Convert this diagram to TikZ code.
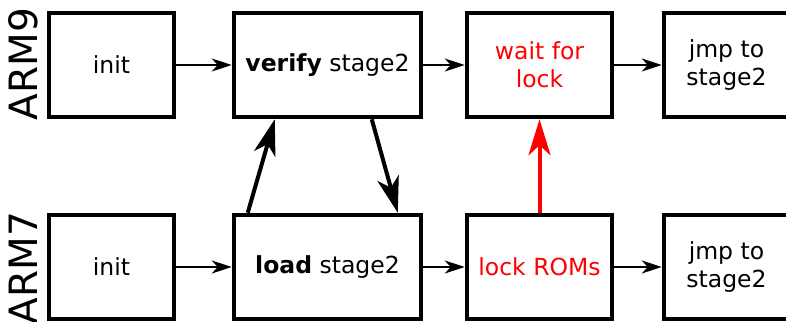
\documentclass[tikz,border=0pt]{standalone}
\usepackage{fontspec}
\setmainfont{DejaVu Sans}
\usetikzlibrary{arrows.meta}
\begin{document}
\begin{tikzpicture}[x=1pt,y=-1pt,
  box/.style={draw,line width=4.5pt,minimum height=104pt,inner sep=0pt,align=center,
    font=\fontsize{23.5}{28}\selectfont},
  lbl/.style={rotate=90,font=\fontsize{39}{40}\selectfont},
  thinarrow/.style={line width=2pt,-{Stealth[length=20pt,width=13pt,inset=6pt]}},
  thickarrow/.style={line width=4pt,-{Stealth[length=36pt,width=22pt,inset=10pt]}},
  redtxt/.style={text=red}]
\useasboundingbox (0,0) rectangle (786,321);
\clip (0,0) rectangle (786,321);
\node[lbl] (arm9) at (23,64) {ARM9};
\node[lbl] (arm7) at (23,268) {ARM7};
% top row
\node[box,minimum width=125pt] (i9) at (111.5,65) {init};
\node[box,minimum width=187pt] (v9) at (327.5,65) {\textbf{verify} stage2};
\node[box,minimum width=145pt,redtxt] (w9) at (539.5,65) {wait for\\lock};
\node[box,minimum width=125pt] (j9) at (726.5,65) {jmp to\\stage2};
% bottom row
\node[box,minimum width=125pt] (i7) at (111.5,267) {init};
\node[box,minimum width=187pt] (l7) at (327.5,267) {\textbf{load} stage2};
\node[box,minimum width=145pt,redtxt] (r7) at (539.5,267) {lock ROMs};
\node[box,minimum width=125pt] (j7) at (726.5,267) {jmp to\\stage2};
% arrows
\draw[thinarrow] (i9) -- (v9);
\draw[thinarrow] (v9) -- (w9);
\draw[thinarrow] (w9) -- (j9);
\draw[thinarrow] (i7) -- (l7);
\draw[thinarrow] (l7) -- (r7);
\draw[thinarrow] (r7) -- (j7);
\draw[thickarrow] ([xshift=16pt]l7.north west) -- ([xshift=43pt]v9.south west);
\draw[thickarrow] ([xshift=140pt]v9.south west) -- ([xshift=166pt]l7.north west);
\draw[thickarrow,red] (r7.north) -- (w9.south);
\end{tikzpicture}
\end{document}
